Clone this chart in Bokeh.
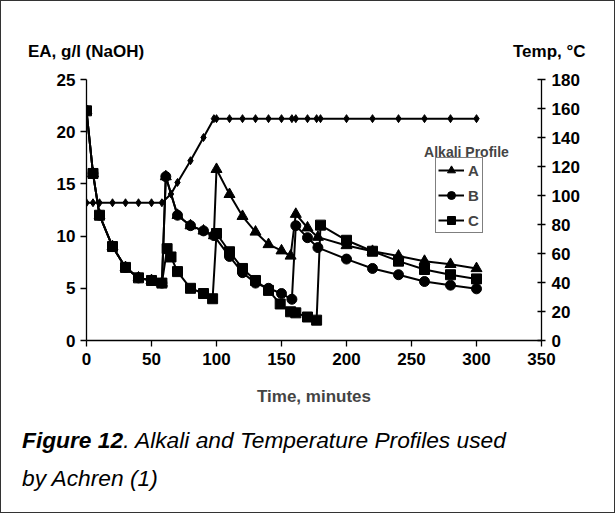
from bokeh.plotting import figure
from bokeh.models import (Range1d, LinearAxis, Legend, LegendItem, Label, Div,
                          FixedTicker)
from bokeh.layouts import column
from bokeh.embed import file_html
from bokeh.resources import INLINE

# ---------------- data ----------------
time_temp = [0, 5, 10, 20, 30, 40, 50, 58, 65, 70, 80, 90, 98, 100, 110, 120,
             130, 140, 150, 158, 161, 170, 177, 180, 200, 220, 240, 260, 280, 300]
temp_c = [95, 95, 95, 95, 95, 95, 95, 95, 101, 109, 124, 140, 153, 153, 153, 153,
          153, 153, 153, 153, 153, 153, 153, 153, 153, 153, 153, 153, 153, 153]

time_a = [0, 5, 10, 20, 30, 40, 50, 58, 61, 70, 80, 90, 98, 100, 110, 120, 130,
          140, 150, 157, 161, 170, 178, 200, 220, 240, 260, 280, 300]
ea_a = [22, 16, 12, 9, 7, 6, 5.75, 5.5, 15.7, 12.0, 11.0, 10.5, 10.05, 16.4, 14.0,
        11.9, 10.4, 9.2, 8.6, 8.1, 12.1, 10.8, 9.9, 9.1, 8.55, 8.1, 7.6, 7.3, 6.9]

time_b = [0, 5, 10, 20, 30, 40, 50, 58, 61, 70, 80, 90, 98, 110, 120, 130, 140,
          150, 158, 161, 170, 178, 200, 220, 240, 260, 280, 300]
ea_b = [22, 16, 12, 9, 7, 6, 5.75, 5.5, 15.7, 12.0, 11.0, 10.5, 10.05, 8.05, 6.5,
        5.5, 5.0, 4.5, 3.95, 11.0, 9.85, 8.9, 7.8, 6.9, 6.3, 5.65, 5.3, 4.95]

time_c = [0, 5, 10, 20, 30, 40, 50, 58, 62, 65, 70, 80, 90, 97, 100, 110, 120,
          130, 140, 149, 157, 161, 170, 177, 180, 200, 220, 240, 260, 280, 300]
ea_c = [22, 16, 12, 9, 7, 6, 5.75, 5.5, 8.8, 8.0, 6.6, 5.0, 4.5, 4.0, 10.25, 8.5,
        6.9, 5.75, 4.8, 3.5, 2.75, 2.65, 2.25, 1.95, 11.05, 9.6, 8.55, 7.6, 6.8,
        6.3, 5.9]

series_labels = ["A", "B", "C"]
x_ticks = [0, 50, 100, 150, 200, 250, 300, 350]
left_ticks = [0, 5, 10, 15, 20, 25]
right_ticks = [0, 20, 40, 60, 80, 100, 120, 140, 160, 180]

FONT = "Liberation Sans"

# ---------------- header with the two axis titles ----------------
header = Div(
    text='<div style="position:relative;width:613px;height:58px;">'
         '<span style="position:absolute;left:27px;top:42px;line-height:17px;'
         'white-space:nowrap;">EA, g/l (NaOH)</span>'
         '<span style="position:absolute;left:512px;top:42px;line-height:17px;'
         'white-space:nowrap;">Temp, °C</span></div>',
    width=613, height=58, margin=0,
    styles={"font-family": FONT, "font-size": "17px", "font-weight": "bold",
            "color": "black", "background-color": "white", "overflow": "visible"})

# ---------------- figure ----------------
p = figure(width=613, height=359, output_backend="svg", toolbar_location=None,
           title=None,
           x_range=Range1d(0, 350), y_range=Range1d(0, 25),
           min_border_left=85, min_border_right=73, min_border_top=20,
           min_border_bottom=78)
p.extra_y_ranges = {"temp": Range1d(0, 180)}
p.outline_line_color = None
p.xgrid.visible = False
p.ygrid.visible = False
p.background_fill_color = "white"
p.border_fill_color = "white"


def style_axis(ax):
    ax.major_label_text_font = FONT
    ax.major_label_text_font_style = "bold"
    ax.major_label_text_font_size = "17px"
    ax.major_label_text_color = "black"
    ax.axis_line_color = "black"
    ax.axis_line_width = 1.3
    ax.major_tick_line_color = "black"
    ax.major_tick_line_width = 1.3
    ax.minor_tick_line_color = None


xa = p.xaxis[0]
style_axis(xa)
xa.ticker = FixedTicker(ticks=x_ticks)
xa.major_tick_in = 0
xa.major_tick_out = 6
xa.major_label_standoff = 6
xa.axis_label = "Time, minutes"
xa.axis_label_text_font = FONT
xa.axis_label_text_font_style = "bold"
xa.axis_label_text_font_size = "17px"
xa.axis_label_standoff = 19

ya = p.yaxis[0]
style_axis(ya)
ya.ticker = FixedTicker(ticks=left_ticks)
ya.major_tick_in = 0
ya.major_tick_out = 6
ya.major_label_standoff = 5

ra = LinearAxis(y_range_name="temp")
style_axis(ra)
ra.ticker = FixedTicker(ticks=right_ticks)
ra.major_tick_in = 4
ra.major_tick_out = 4
ra.major_label_standoff = 6
p.add_layout(ra, "right")

# ---------------- series ----------------
LW = 2
p.line(time_temp, temp_c, y_range_name="temp", color="black", line_width=LW)
p.scatter(time_temp, temp_c, y_range_name="temp", marker="diamond", size=8,
          color="black")

la = p.line(time_a, ea_a, color="black", line_width=LW)
sa = p.scatter(time_a, ea_a, marker="triangle", size=11, color="black")
lb = p.line(time_b, ea_b, color="black", line_width=LW)
sb = p.scatter(time_b, ea_b, marker="circle", size=10, color="black")
lc = p.line(time_c, ea_c, color="black", line_width=LW)
sc = p.scatter(time_c, ea_c, marker="square", size=10, color="black")

legend = Legend(items=[LegendItem(label=series_labels[0], renderers=[la, sa]),
                       LegendItem(label=series_labels[1], renderers=[lb, sb]),
                       LegendItem(label=series_labels[2], renderers=[lc, sc])],
                location=(349, 107))
legend.border_line_color = "black"
legend.border_line_width = 1
legend.background_fill_alpha = 1
legend.label_text_font = FONT
legend.label_text_font_style = "bold"
legend.label_text_font_size = "15px"
legend.glyph_width = 26
legend.glyph_height = 20
legend.label_width = 12
legend.label_height = 20
legend.label_standoff = 4
legend.spacing = 5
legend.padding = 2
legend.margin = 0
p.add_layout(legend, "center")

p.add_layout(Label(x=380, y=189, x_units="screen", y_units="screen",
                   text="Alkali Profile", text_font=FONT, text_font_style="bold",
                   text_font_size="14px", text_baseline="alphabetic",
                   text_align="center"))

caption = Div(
    text='<span style="font-weight:bold;font-style:italic">Figure 12</span>'
         '<span style="font-style:italic">. Alkali and Temperature Profiles used'
         '<br>by Achren (1)</span>',
    width=613, height=94, margin=0,
    styles={"font-family": FONT, "font-size": "22.75px", "line-height": "38px",
            "padding-left": "21px", "padding-top": "3px",
            "box-sizing": "border-box",
            "white-space": "nowrap", "color": "black",
            "background-color": "white"})

root = column(header, p, caption, spacing=0,
              styles={"border": "1px solid #333", "background-color": "white"})

open("out.html", "w").write(file_html(root, INLINE))
